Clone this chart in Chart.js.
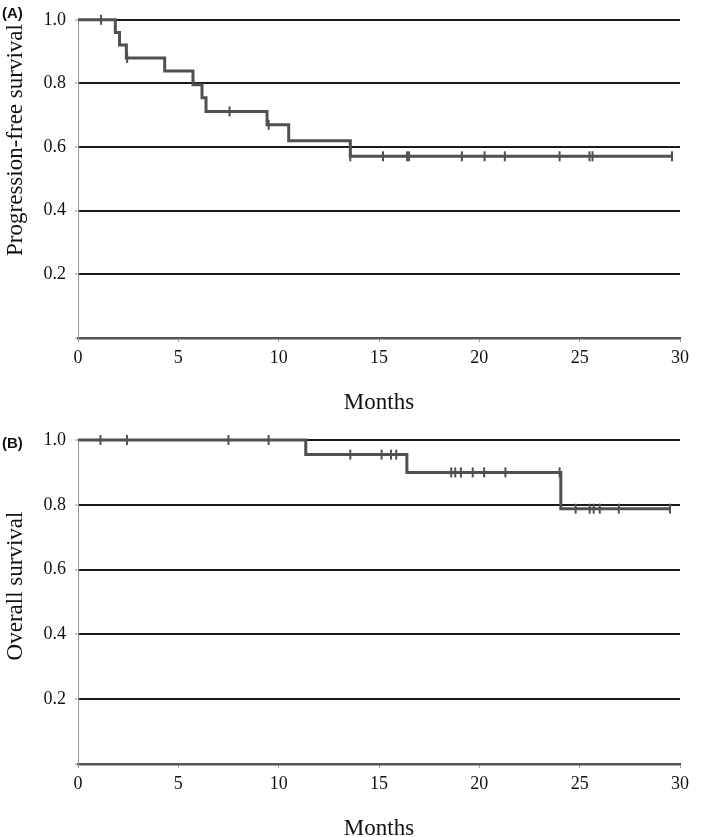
<!DOCTYPE html>
<html>
<head>
<meta charset="utf-8">
<script src="https://cdn.jsdelivr.net/npm/chart.js@4/dist/chart.umd.min.js"></script>
<style>
  html, body { margin: 0; padding: 0; background: #fff; overflow: hidden; }
  #wrap { position: relative; width: 709px; height: 837px; }
  canvas { position: absolute; left: 0; }
  .panel { position: absolute; font: bold 15px "Liberation Sans", Arial, sans-serif; color: #111; }
  .ytitle {
    position: absolute; white-space: nowrap; color: #111;
    font: 23px "Liberation Serif", "Times New Roman", serif;
    transform: translate(-50%, -50%) rotate(-90deg);
  }
</style>
</head>
<body>
<div id="wrap">
  <canvas id="pfs" width="709" height="420" style="top:0"></canvas>
  <canvas id="os" width="709" height="430" style="top:420px"></canvas>
  <div class="panel" style="left:2px; top:4px">(A)</div>
  <div class="panel" style="left:2px; top:434px">(B)</div>
  <div class="ytitle" style="left:15px; top:140px">Progression-free survival</div>
  <div class="ytitle" style="left:15px; top:586px">Overall survival</div>
</div>
<script>
// ==============================
// Data
// ==============================
const yTicks = [0.2, 0.4, 0.6, 0.8, 1.0];
const xTicks = [0, 5, 10, 15, 20, 25, 30];

// (A) progression-free survival: step times and survival after each step
const pfsTimes = [0, 1.86, 2.07, 2.41, 4.32, 5.73, 6.18, 6.38, 9.42, 10.5, 13.57, 29.6];
const pfsSurv  = [1.0, 0.96, 0.921, 0.88, 0.839, 0.796, 0.755, 0.712, 0.67, 0.62, 0.571, 0.571];
const pfsCensor = [1.15, 2.45, 7.55, 9.5, 13.57, 15.2, 16.4, 16.5, 19.13, 20.26, 21.27, 24.0, 25.49, 25.64, 29.6];

// (B) overall survival
const osTimes = [0, 11.35, 16.39, 24.06, 29.5];
const osSurv  = [1.0, 0.955, 0.90, 0.788, 0.788];
const osCensor = [1.12, 2.44, 7.5, 9.5, 13.57, 15.13, 15.6, 15.86, 18.6, 18.8, 19.08, 19.67,
                  20.24, 21.3, 24.0, 24.8, 25.5, 25.7, 26.0, 26.95, 29.5];

// ==============================
// Helpers
// ==============================
const CURVE = "#505050";
const SERIF = "'Liberation Serif', 'Times New Roman', serif";

// survival level of the step curve at time t (censor at a drop sits on the lower level)
function survAt(times, surv, t) {
  let s = surv[0];
  for (let i = 0; i < times.length; i++) if (times[i] <= t) s = surv[i];
  return s;
}

function kmChart(id, times, surv, censor, padTop, xHeight, titlePad) {
  const curve = times.map((t, i) => ({ x: t, y: surv[i] }));
  const marks = censor.map(t => ({ x: t, y: survAt(times, surv, t) }));

  return new Chart(document.getElementById(id), {
    type: "line",
    data: {
      datasets: [
        {
          data: curve,
          stepped: "before",
          borderColor: CURVE,
          borderWidth: 3,
          pointRadius: 0,
          clip: false
        },
        {
          type: "scatter",
          data: marks,
          pointStyle: "line",
          rotation: 90,
          pointRadius: 5,
          borderColor: CURVE,
          backgroundColor: CURVE,
          borderWidth: 2,
          clip: false
        }
      ]
    },
    options: {
      responsive: false,
      animation: false,
      events: [],
      layout: { padding: { top: padTop, right: 29, left: 0, bottom: 0 } },
      plugins: { legend: { display: false }, tooltip: { enabled: false } },
      scales: {
        x: {
          type: "linear",
          min: 0, max: 30,
          afterBuildTicks: s => { s.ticks = xTicks.map(v => ({ value: v })); },
          afterFit: s => { s.height = xHeight; },
          ticks: { color: "#111", font: { family: SERIF, size: 18 }, padding: 5, maxRotation: 0 },
          grid: { drawOnChartArea: false, drawTicks: true, tickLength: 4, tickColor: "#9a9a9a", tickWidth: 1 },
          border: { display: true, color: "#555", width: 2.5 },
          title: {
            display: true, text: "Months", color: "#111",
            font: { family: SERIF, size: 23 },
            padding: { top: 0, bottom: titlePad }
          }
        },
        y: {
          min: 0, max: 1,
          afterBuildTicks: s => { s.ticks = [0].concat(yTicks).map(v => ({ value: v })); },
          afterFit: s => { s.width = 78; },
          ticks: {
            color: "#111", font: { family: SERIF, size: 18 }, padding: 9,
            callback: v => (v === 0 ? "" : v.toFixed(1))
          },
          grid: {
            color: c => (c.tick && c.tick.value === 0 ? "rgba(0,0,0,0)" : "#1a1a1a"),
            lineWidth: 2,
            drawTicks: true, tickLength: 3, tickColor: "#9a9a9a", tickWidth: 1
          },
          border: { display: true, color: "#9a9a9a", width: 1 }
        }
      }
    }
  });
}

// ==============================
// Charts
// ==============================
kmChart("pfs", pfsTimes, pfsSurv, pfsCensor, 13, 82, 3);
kmChart("os", osTimes, osSurv, osCensor, 20, 86, 7);
</script>
</body>
</html>
